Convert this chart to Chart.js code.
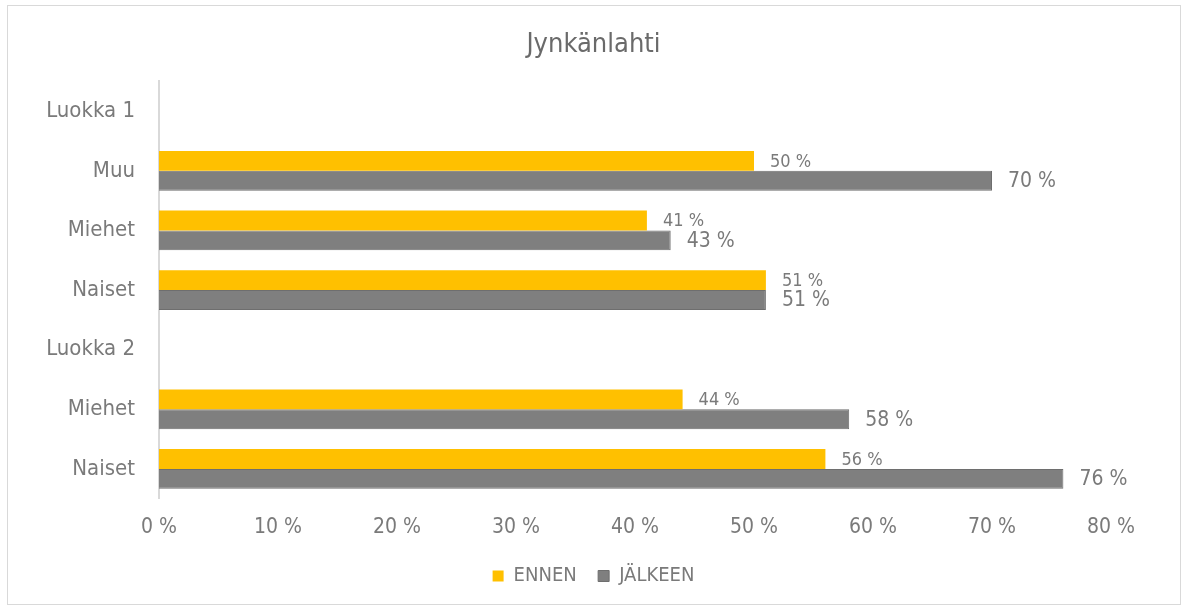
<!DOCTYPE html>
<html>
<head>
<meta charset="utf-8">
<script src="https://cdn.jsdelivr.net/npm/chart.js@4"></script>
<style>
  html, body { margin: 0; padding: 0; background: #fff; }
  #wrap { position: relative; width: 1187px; height: 610px; }
  #frame { position: absolute; left: 7px; top: 5px; width: 1172px; height: 598px; border: 1px solid #d9d9d9; pointer-events: none; }
</style>
</head>
<body>
<div id="wrap">
  <canvas id="graf" width="1187" height="610"></canvas>
  <div id="frame"></div>
</div>
<script>
// rivit ylhäältä alas, otsikkoriveillä ei arvoja
const kategoriat = ['Luokka 1', 'Muu', 'Miehet', 'Naiset', 'Luokka 2', 'Miehet', 'Naiset'];
const ennen = [null, 50, 41, 51, null, 44, 56];
const jalkeen = [null, 70, 43, 51, null, 58, 76];
const xTiks = [0, 10, 20, 30, 40, 50, 60, 70, 80];

const fontti = "'DejaVu Sans Condensed', 'DejaVu Sans', sans-serif";
const harmaa = '#7a7a7a';

const arvoTekstit = {
  id: 'arvoTekstit',
  afterDatasetsDraw(chart) {
    const ctx = chart.ctx;
    ctx.save();
    ctx.fillStyle = harmaa;
    ctx.textBaseline = 'middle';
    ctx.textAlign = 'left';
    chart.data.datasets.forEach((ds, i) => {
      const meta = chart.getDatasetMeta(i);
      ctx.font = (i === 0 ? '18px ' : '21px ') + fontti;
      meta.data.forEach((bar, j) => {
        if (ds.data[j] == null) return;
        ctx.fillText(ds.data[j] + ' %', bar.x + 16, bar.y + 1);
      });
    });
    ctx.restore();
  }
};

new Chart(document.getElementById('graf').getContext('2d'), {
  type: 'bar',
  data: {
    labels: kategoriat,
    datasets: [{
      label: 'ENNEN',
      data: ennen,
      backgroundColor: '#ffc000',
      borderWidth: 0
    }, {
      label: 'JÄLKEEN',
      data: jalkeen,
      backgroundColor: '#7f7f7f',
      borderColor: '#6e6e6e',
      borderWidth: 1
    }]
  },
  options: {
    indexAxis: 'y',
    responsive: false,
    animation: false,
    layout: { padding: { left: 0, right: 0, top: 9, bottom: 14 } },
    categoryPercentage: 0.667,
    barPercentage: 1,
    plugins: {
      title: {
        display: true,
        text: 'Jynkänlahti',
        color: '#6a6a6a',
        font: { family: fontti, size: 27, weight: 'normal' },
        padding: { top: 20, bottom: 20 }
      },
      legend: {
        position: 'bottom',
        labels: {
          color: harmaa,
          font: { family: fontti, size: 20 },
          boxWidth: 11,
          boxHeight: 11,
          padding: 10,
          // vähän lisää väliä selitteiden väliin
          generateLabels: chart => Chart.defaults.plugins.legend.labels.generateLabels(chart)
            .map((l, i) => ({ ...l, text: i === 0 ? l.text + '  ' : l.text }))
        }
      },
      tooltip: { enabled: false }
    },
    scales: {
      x: {
        min: 0,
        max: 80,
        afterBuildTicks: s => { s.ticks = xTiks.map(v => ({ value: v })); },
        afterFit: s => { s.paddingRight = 76; },
        grid: { display: false, drawTicks: false },
        border: { display: false },
        ticks: {
          color: harmaa,
          font: { family: fontti, size: 21 },
          padding: 16,
          callback: v => v + ' %'
        }
      },
      y: {
        afterFit: s => { s.width = 159; },
        grid: { display: false, drawTicks: false },
        border: { display: true, color: '#d9d9d9', width: 2 },
        ticks: {
          color: harmaa,
          font: { family: fontti, size: 22 },
          padding: 24
        }
      }
    }
  },
  plugins: [arvoTekstit]
});
</script>
</body>
</html>
